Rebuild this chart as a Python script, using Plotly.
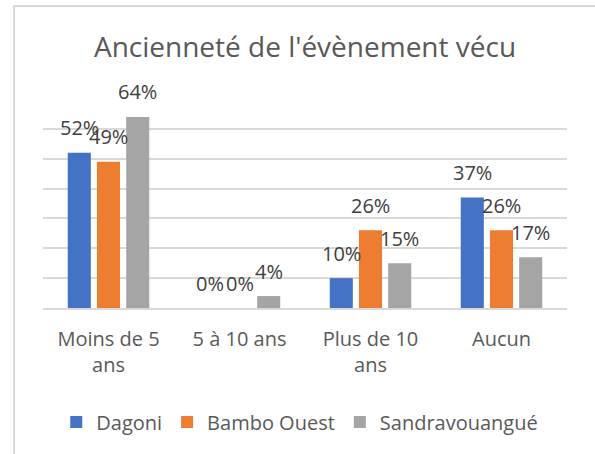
import plotly.graph_objects as go

categories = ["Moins de 5<br>ans", "5 à 10 ans", "Plus de 10<br>ans", "Aucun"]
series_names = ["Dagoni", "Bambo Ouest", "Sandravouangué"]
dagoni = [52, 0, 10, 37]
bambo_ouest = [49, 0, 26, 26]
sandravouangue = [64, 4, 15, 17]
colors = ["#4472C4", "#ED7D31", "#A5A5A5"]

W, H = 595, 454
ML, MR, MT, MB = 43, 28, 99, 146
FONT = "Open Sans"

fig = go.Figure()
all_values = [dagoni, bambo_ouest, sandravouangue]
for name, vals, col in zip(series_names, all_values, colors):
    fig.add_trace(go.Bar(x=categories, y=vals, name=name,
                         marker=dict(color=col, line=dict(width=0)),
                         hoverinfo="skip"))

# data labels placed above each bar
plot_w = W - ML - MR
bargap, bargroupgap = 0.331, 0.21
slot = plot_w / len(categories) * (1 - bargap) / 3
for i, vals in enumerate(all_values):
    for c, v in zip(categories, vals):
        fig.add_annotation(x=c, y=v, text=f"{v}%", showarrow=False,
                           xshift=(i - 1) * slot, yshift=25,
                           font=dict(family=FONT, size=20, color="#404040"))

# chart frame (left and top edges)
plot_h = H - MT - MB
x0 = (14 - ML) / plot_w
y_top = (H - MB - 6) / plot_h
y_bot = (H - MB - H - 10) / plot_h
fig.add_shape(type="path", xref="paper", yref="paper",
              path=f"M {x0} {y_bot} L {x0} {y_top} L 1.2 {y_top}",
              line=dict(color="#D9D9D9", width=2))

fig.update_layout(
    width=W, height=H,
    margin=dict(l=ML, r=MR, t=MT, b=MB),
    paper_bgcolor="white", plot_bgcolor="white",
    barmode="group", bargap=bargap, bargroupgap=bargroupgap,
    font=dict(family=FONT, color="#595959"),
    title=dict(text="Ancienneté de l'évènement vécu", x=0.5, xref="paper",
               y=1 - 47 / H, yref="container", yanchor="middle",
               font=dict(family=FONT, size=28, color="#595959")),
    showlegend=True,
    legend=dict(orientation="h", x=0.49, xanchor="center",
                y=-(422 - (H - MB)) / plot_h, yanchor="middle",
                font=dict(family=FONT, size=20, color="#595959")),
    xaxis=dict(showgrid=False, showline=True, linecolor="#D9D9D9", linewidth=2,
               tickfont=dict(family=FONT, size=20, color="#595959"),
               ticks="", ticklabelstandoff=12, fixedrange=True),
    yaxis=dict(range=[0, 70], dtick=10, showgrid=True, gridcolor="#D9D9D9",
               gridwidth=2, showticklabels=False, zeroline=False, fixedrange=True),
)

fig.write_html("out.html")
